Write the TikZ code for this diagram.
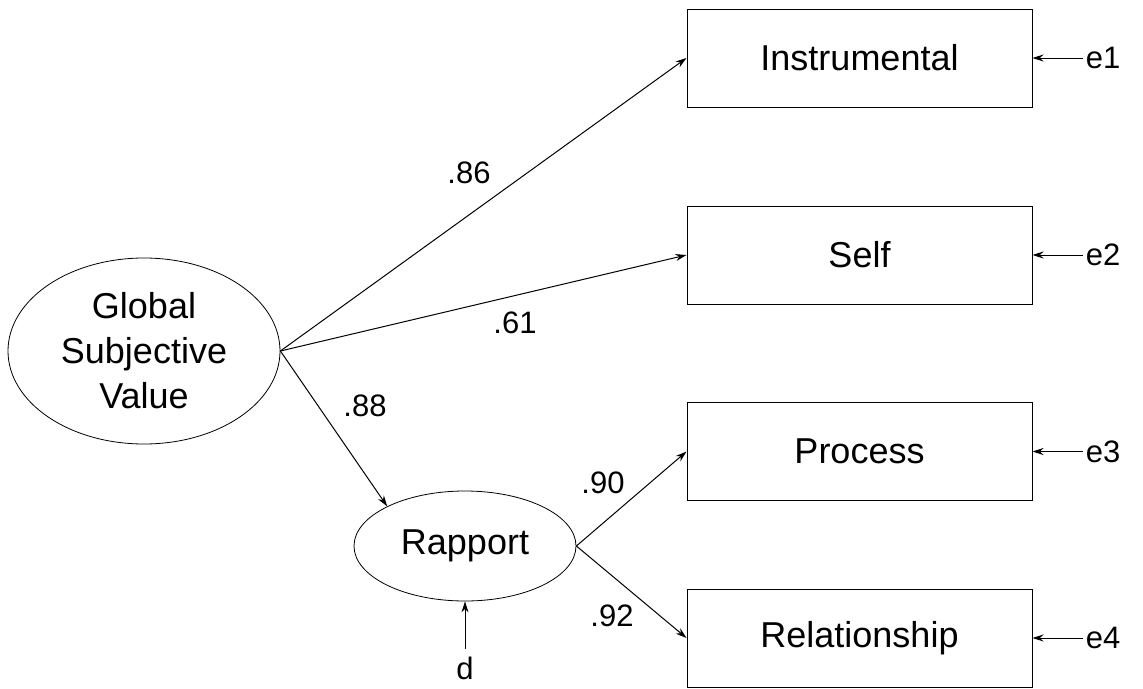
\documentclass[tikz,border=0pt]{standalone}
\usepackage{fontspec}
\setmainfont{Liberation Sans}
\usetikzlibrary{arrows.meta,shapes.geometric}
\begin{document}
\begin{tikzpicture}[x=1pt,y=-1pt,
  every node/.style={font=\fontsize{36}{42}\selectfont},
  obs/.style={draw,line width=1pt,minimum width=345pt,minimum height=98pt,inner sep=0pt},
  lat/.style={draw,ellipse,line width=0.8pt,inner sep=0pt,align=center},
  lbl/.style={font=\fontsize{31}{36}\selectfont,inner sep=0pt},
  path/.style={line width=1pt,-{Stealth[length=11pt,width=7pt]}}]
\useasboundingbox (0,0) rectangle (1143,688);
\node[lat,minimum width=272pt,minimum height=186pt] (G) at (144,351) {Global\\[3pt]Subjective\\[3pt]Value};
\node[lat,minimum width=222pt,minimum height=110pt] (R) at (465,546) {Rapport};
\node[obs] (I) at (859.5,58) {Instrumental};
\node[obs] (S) at (859.5,255) {Self};
\node[obs] (P) at (859.5,451.5) {Process};
\node[obs] (L) at (859.5,638) {Relationship};
\node[lbl] (e1) at (1103,58) {e1};
\node[lbl] (e2) at (1103,255) {e2};
\node[lbl] (e3) at (1103,451.5) {e3};
\node[lbl] (e4) at (1103,638) {e4};
\node[lbl] (d) at (465,668) {d};
\draw[path] (G.east) -- (I.west);
\draw[path] (G.east) -- (S.west);
\draw[path] (G.east) -- (R.153);
\draw[path] (R.east) -- (P.west);
\draw[path] (R.east) -- (L.west);
\draw[path,shorten <=3pt] (e1.west) -- (I.east);
\draw[path,shorten <=3pt] (e2.west) -- (S.east);
\draw[path,shorten <=3pt] (e3.west) -- (P.east);
\draw[path,shorten <=3pt] (e4.west) -- (L.east);
\draw[path,shorten <=19pt] (d.center) -- (R.south);
\node[lbl] (l86) at (469,173) {.86};
\node[lbl] (l61) at (515,323) {.61};
\node[lbl] (l88) at (365,406) {.88};
\node[lbl] (l90) at (603,483) {.90};
\node[lbl] (l92) at (612,616) {.92};
\end{tikzpicture}
\end{document}
